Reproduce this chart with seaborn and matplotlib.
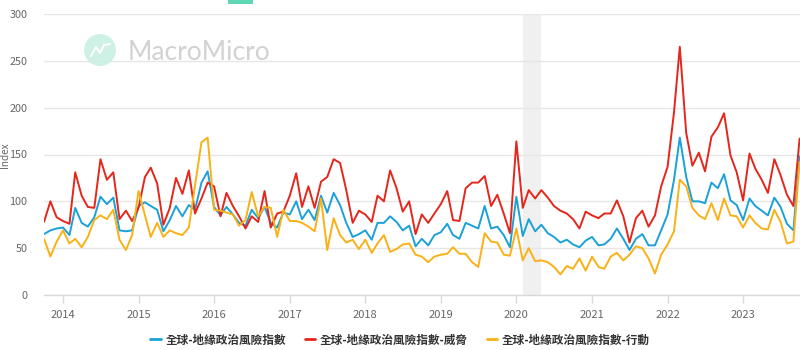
import matplotlib
matplotlib.use("Agg")
import numpy as np
import pandas as pd
import matplotlib.pyplot as plt
import matplotlib.dates as mdates
from matplotlib.patches import Ellipse, Rectangle
from matplotlib.lines import Line2D
import seaborn as sns

# ---------------- data ----------------
start_month = "2013-10-01"
n_months = 121

series_names = ["全球-地緣政治風險指數", "全球-地緣政治風險指數-威脅", "全球-地緣政治風險指數-行動"]

gpr_total = [65, 69, 71, 72, 64, 93, 77, 73, 83, 105, 97, 104, 69, 68, 69, 95, 99, 95, 91, 68,
             80, 95, 84, 96, 91, 120, 132, 94, 85, 94, 86, 77, 74, 91, 82, 94, 77, 72, 88, 86,
             100, 81, 91, 80, 106, 88, 109, 96, 77, 62, 65, 69, 59, 77, 77, 84, 78, 69, 74, 52,
             60, 53, 64, 67, 76, 64, 60, 77, 74, 71, 95, 71, 73, 64, 51, 105, 63, 81, 68, 75,
             66, 62, 56, 59, 54, 51, 58, 62, 53, 54, 60, 71, 60, 48, 60, 65, 53, 53, 69, 86,
             123, 168, 126, 100, 100, 98, 120, 114, 129, 101, 96, 80, 103, 95, 90, 85, 104, 94, 76, 69,
             148]

gpr_threats = [78, 100, 83, 79, 76, 131, 106, 94, 93, 145, 123, 131, 81, 90, 79, 93, 126, 136, 119, 75,
               93, 125, 108, 133, 87, 103, 120, 116, 84, 109, 95, 84, 71, 84, 78, 111, 72, 87, 89, 106,
               130, 94, 116, 93, 121, 126, 145, 141, 112, 77, 90, 86, 78, 106, 100, 133, 114, 89, 100, 65,
               86, 77, 87, 97, 111, 80, 79, 114, 120, 120, 127, 95, 107, 87, 66, 164, 93, 112, 103, 112,
               104, 95, 90, 87, 81, 71, 89, 85, 82, 87, 87, 101, 84, 56, 82, 90, 73, 85, 116, 137,
               195, 265, 173, 138, 152, 132, 169, 179, 194, 149, 131, 101, 151, 135, 123, 109, 145, 128, 107, 95,
               167]

gpr_acts = [60, 41, 57, 69, 55, 60, 51, 62, 80, 85, 81, 91, 59, 48, 64, 111, 85, 62, 77, 62,
            69, 66, 64, 72, 117, 163, 168, 91, 90, 88, 86, 74, 80, 110, 84, 94, 93, 62, 91, 79,
            79, 77, 73, 68, 103, 48, 82, 64, 56, 59, 49, 59, 45, 55, 64, 46, 49, 54, 55, 43,
            41, 35, 41, 43, 44, 51, 44, 44, 35, 30, 66, 57, 56, 43, 42, 71, 37, 50, 36, 37,
            35, 30, 22, 31, 28, 39, 26, 41, 30, 28, 41, 45, 37, 43, 52, 50, 39, 23, 43, 54,
            68, 123, 116, 93, 85, 81, 98, 80, 103, 85, 84, 72, 85, 77, 71, 70, 91, 78, 55, 57,
            142]

y_ticks = [0, 50, 100, 150, 200, 250, 300]
recession_start = "2020-02-01"
recession_end = "2020-05-01"

colors = ["#1ba1d8", "#e4261b", "#f9b116"]

# ---------------- build frame ----------------
dates = pd.date_range(start_month, periods=n_months, freq="MS")
frames = []
for name, vals in zip(series_names, [gpr_total, gpr_threats, gpr_acts]):
    frames.append(pd.DataFrame({"date": dates, "value": vals, "series": name}))
df = pd.concat(frames, ignore_index=True)

# ---------------- style ----------------
sns.set_theme(style="white")
plt.rcParams["font.family"] = ["Noto Sans CJK TC", "DejaVu Sans"]

W, H = 800, 350
fig = plt.figure(figsize=(8, 3.5), dpi=100)
ax = fig.add_axes([44 / W, 1 - 295 / H, 756 / W, 281 / H])

ax.axvspan(pd.Timestamp(recession_start), pd.Timestamp(recession_end),
           color="#f0f0f0", zorder=0, lw=0)

sns.lineplot(data=df, x="date", y="value", hue="series", hue_order=series_names,
             palette=colors, linewidth=1.4, ax=ax, legend=False, zorder=3)

ax.set_ylim(0, 300)
ax.set_yticks(y_ticks)
ax.set_xlim(dates[0], dates[-1] + pd.Timedelta(days=2))
ax.xaxis.set_major_locator(mdates.YearLocator())
ax.xaxis.set_major_formatter(mdates.DateFormatter("%Y"))

ax.yaxis.grid(True, color="#e6e6e6", lw=1)
ax.xaxis.grid(False)
ax.set_axisbelow(True)
for s in ["left", "right", "top"]:
    ax.spines[s].set_visible(False)
ax.spines["bottom"].set_color("#d9d9d9")
ax.spines["bottom"].set_linewidth(1)

ax.tick_params(axis="x", length=6, width=1, color="#d9d9d9", labelcolor="#666666",
               labelsize=8, pad=5, direction="out", bottom=True)
ax.tick_params(axis="y", length=0, labelcolor="#666666", labelsize=7.8, pad=12)
ax.set_xlabel("")
ax.set_ylabel("")
fig.text(5 / W, 1 - 155 / H, "Index", rotation=90, ha="center", va="center",
         fontsize=7.2, color="#666666")

# legend
handles = [Line2D([0], [0], color=c, lw=2) for c in colors]
fig.legend(handles, series_names, loc="center", bbox_to_anchor=(0.5, 1 - 340 / H),
           ncol=3, frameon=False, handlelength=0.9, handletextpad=0.4,
           columnspacing=1.6, prop={"size": 8.4, "weight": "bold"}, labelcolor="#333333")

# watermark (inside the axes, beneath the data lines)
ax.add_artist(Ellipse((100 / W, 1 - 50 / H), 32 / W, 32 / H, transform=fig.transFigure,
                      facecolor="#c8f0e3", edgecolor="none", alpha=0.9, zorder=1,
                      clip_on=False))
ax.add_artist(Line2D([91 / W, 96 / W, 100 / W, 104 / W, 110 / W],
                     [1 - 56 / H, 1 - 47 / H, 1 - 53 / H, 1 - 45 / H, 1 - 44 / H],
                     transform=fig.transFigure, color="white", lw=1.5, zorder=1.5,
                     clip_on=False))
ax.text(128 / W, 1 - 52 / H, "MacroMicro", fontsize=19, color="#d2d2d2",
        family="Lato", ha="left", va="center", transform=fig.transFigure, zorder=1)
fig.add_artist(Rectangle((228 / W, 1 - 4 / H), 25 / W, 4 / H, transform=fig.transFigure,
                         color="#5fd6b6", lw=0))

fig.savefig("out.png", dpi=100)
